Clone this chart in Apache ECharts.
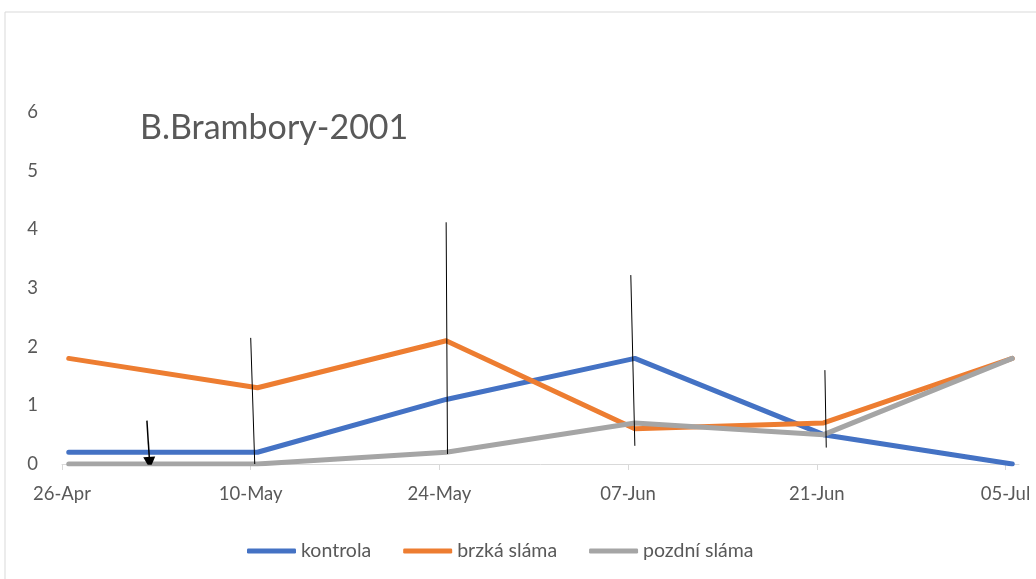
<!DOCTYPE html>
<html>
<head>
<meta charset="utf-8">
<script src="https://cdn.jsdelivr.net/npm/echarts@6/dist/echarts.min.js"></script>
<style>
  html, body { margin: 0; padding: 0; background: #fff; }
  #main { width: 1036px; height: 579px; }
</style>
</head>
<body>
<div id="main"></div>
<script>
var startDate = '2001-04-26';
var dates = ['2001-04-26', '2001-05-10', '2001-05-24', '2001-06-07', '2001-06-21', '2001-07-05'];
var tickLabels = ['26-Apr', '10-May', '24-May', '07-Jun', '21-Jun', '05-Jul'];
var kontrola = [0.2, 0.2, 1.1, 1.8, 0.5, 0];
var brzka = [1.8, 1.3, 2.1, 0.6, 0.7, 1.8];
var pozdni = [0, 0, 0.2, 0.7, 0.5, 1.8];
// svisle cary (od - do), [den, hodnota]
var errTop = [[14.0, 2.15], [28.5, 4.12], [42.2, 3.22], [56.6, 1.6]];
var errBottom = [[14.3, 0], [28.6, 0.17], [42.5, 0.31], [56.7, 0.28]];
var arrowFrom = [6.3, 0.74];
var arrowTo = [6.5, 0.02];

function dayOf(d) {
  return (new Date(d) - new Date(startDate)) / 86400000;
}
var tickDays = dates.map(dayOf);

function pts(vals) {
  return vals.map(function (v, i) { return [tickDays[i] + 0.5, v]; });
}

var myChart = echarts.init(document.getElementById('main'));
var txt = '#595959';
var font = 'Lato, "Open Sans", sans-serif';

var errLines = errTop.map(function (t, i) { return { coords: [t, errBottom[i]] }; });

option = {
    animation: false,
    textStyle: { fontFamily: font },
    title: {
        text: 'B.Brambory-2001',
        left: 135, top: 106,
        textStyle: { color: txt, fontSize: 34, fontWeight: 'normal', fontFamily: font }
    },
    graphic: [{
        type: 'rect',
        shape: { x: 5, y: 12, width: 1200, height: 800 },
        style: { fill: 'none', stroke: '#d9d9d9', lineWidth: 1 },
        silent: true
    }],
    legend: {
        top: 536,
        left: 242,
        icon: 'roundRect',
        itemWidth: 49,
        itemHeight: 5,
        itemGap: 32,
        textStyle: { color: txt, fontSize: 19.5, fontFamily: font },
        data: ['kontrola', 'brzká sláma', 'pozdní sláma']
    },
    grid: { left: 62, right: 17, top: 112, bottom: 115 },
    xAxis: {
        type: 'value',
        min: 0,
        max: 71,
        interval: 14,
        splitLine: { show: false },
        axisLine: { lineStyle: { color: '#d9d9d9', width: 1 } },
        axisTick: { show: true, length: 6, customValues: tickDays, lineStyle: { color: '#d9d9d9' } },
        axisLabel: {
            customValues: tickDays,
            color: txt, fontSize: 18.5, margin: 21, fontFamily: font,
            formatter: function (v) {
                var i = tickDays.indexOf(v);
                return i >= 0 ? tickLabels[i] : '';
            }
        }
    },
    yAxis: {
        type: 'value',
        min: 0, max: 6, interval: 1,
        splitLine: { show: false },
        axisLine: { show: false },
        axisTick: { show: false },
        axisLabel: { color: txt, fontSize: 18.5, margin: 24, fontFamily: font }
    },
    series: [
        { name: 'kontrola', type: 'line', data: pts(kontrola), symbol: 'none', color: '#4472C4',
          lineStyle: { width: 5, cap: 'round', join: 'round' } },
        { name: 'brzká sláma', type: 'line', data: pts(brzka), symbol: 'none', color: '#ED7D31',
          lineStyle: { width: 5, cap: 'round', join: 'round' } },
        { name: 'pozdní sláma', type: 'line', data: pts(pozdni), symbol: 'none', color: '#A5A5A5',
          lineStyle: { width: 5, cap: 'round', join: 'round' } },
        { type: 'lines', coordinateSystem: 'cartesian2d', silent: true, z: 5,
          lineStyle: { color: '#000', width: 1, opacity: 1 },
          data: errLines },
        { type: 'lines', coordinateSystem: 'cartesian2d', silent: true, z: 5,
          symbol: ['none', 'triangle'], symbolSize: [14, 12],
          lineStyle: { color: '#000', width: 1.5, opacity: 1 },
          data: [{ coords: [arrowFrom, arrowTo] }] }
    ]
};
myChart.setOption(option);
</script>
</body>
</html>
